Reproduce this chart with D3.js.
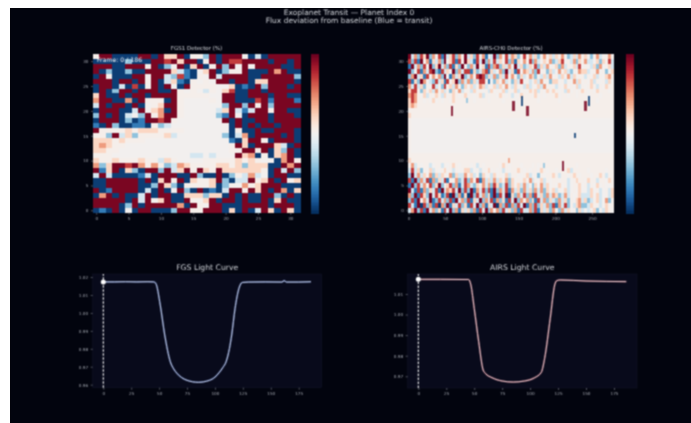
<!DOCTYPE html>
<html>
<head>
<meta charset="utf-8">
<script src="https://cdn.jsdelivr.net/npm/d3@7"></script>
<style>
html, body { margin: 0; padding: 0; background: #fff; overflow: hidden; }
svg { display: block; font-family: "DejaVu Sans", sans-serif; }
</style>
</head>
<body>
<div id="chart"></div>
<script>
// each digit is one detector cell, see fluxLevels. top row of the image first
var fluxLevels = [-0.95, -0.7, -0.4, -0.17, 0, 0.03, 0.2, 0.42, 0.7, 0.95];

var fgsRows = [
  "59900009"+"90966905"+"52909994"+"03099999",
  "00000200"+"09989699"+"05909889"+"99909909",
  "99900999"+"59024906"+"90592949"+"49999009",
  "90200200"+"99996310"+"46902559"+"00097900",
  "09500099"+"49932810"+"54939999"+"00999992",
  "99909909"+"59036105"+"45499099"+"06699990",
  "09903080"+"49094095"+"55544601"+"09299909",
  "09029909"+"99009545"+"43546800"+"99099999",
  "69009099"+"09999555"+"55449900"+"99909900",
  "79900709"+"55509544"+"44549900"+"08919991",
  "39099090"+"45699544"+"44442992"+"95929999",
  "09990039"+"46709544"+"44436931"+"39959900",
  "29090342"+"95799544"+"44421940"+"99909990",
  "09990201"+"99895444"+"44449090"+"09909999",
  "10920011"+"05234444"+"44444090"+"90990999",
  "95555656"+"66555544"+"44444050"+"09009990",
  "55293625"+"55563444"+"44442037"+"09999090",
  "66656555"+"44444444"+"44444106"+"99509990",
  "67655444"+"44444444"+"44444596"+"09996309",
  "66554444"+"44444444"+"44444559"+"95906290",
  "55544444"+"44444443"+"34344496"+"70506790",
  "65565556"+"55365444"+"45555565"+"65440795",
  "72699897"+"57523765"+"55566562"+"66600979",
  "91690620"+"99293695"+"96596666"+"66509392",
  "39300001"+"30999009"+"20090253"+"73409900",
  "00999990"+"90695906"+"55692033"+"95690956",
  "00999990"+"02962055"+"55602547"+"56999000",
  "90199990"+"30904920"+"90103995"+"96909706",
  "07909003"+"90990066"+"62660909"+"00992090",
  "99999093"+"94690095"+"46909909"+"00906900",
  "99990290"+"99999709"+"54990009"+"99909990",
  "01090409"+"90002995"+"59990609"+"03960960"
];

var airsRows = [
  "9372869274"+"8193682759"+"3628471539"+"2748376258"+"4736257463"+"6574236375"+"6425735574",
  "8281957163"+"7294681849"+"6318392738"+"3648271647"+"5827346572"+"3684537265"+"7334626583",
  "1937284926"+"9372816294"+"2739461827"+"8263749362"+"3648263745"+"6273546384"+"5436274563",
  "9248173892"+"1836492738"+"8162378163"+"4729361847"+"6372845263"+"4756325476"+"6345745246",
  "2793618475"+"7294173692"+"3748982637"+"2638475263"+"4762536374"+"5364736455"+"3546354675",
  "8162974328"+"3618469273"+"7263885142"+"6473526384"+"5346374526"+"6453547364"+"5463545364",
  "7383625483"+"5284637526"+"4635763546"+"3647536453"+"6354637455"+"3546454635"+"4565354655",
  "6885264637"+"4635264735"+"5364545364"+"5463546345"+"4656354646"+"5453645456"+"5454655545",
  "7875463546"+"5364565456"+"4545635455"+"4654535465"+"5546454555"+"6455455455"+"5455545555",
  "6875545464"+"5455465555"+"5545555455"+"5545554555"+"5555455555"+"5455555555"+"5555455555",
  "6765555555"+"5555555555"+"5555555555"+"5555555555"+"5555555555"+"5555555555"+"5555555555",
  "5555555555"+"5555555555"+"5555555555"+"5555555555"+"5555555555"+"5555555555"+"5555555555",
  "6555555555"+"5555555555"+"5555555555"+"5555555555"+"5555555555"+"5555555555"+"5555555555",
  "5444444444"+"4444444444"+"4444444444"+"4444444444"+"4444444444"+"4444444444"+"4444444444",
  "5444444444"+"4444444444"+"4444444444"+"4444444444"+"4444444444"+"4444444444"+"4444444444",
  "5444444444"+"4444444444"+"4444444444"+"4444444444"+"4444444444"+"4444444444"+"4444444444",
  "5444444444"+"4444444444"+"4444444444"+"4444444444"+"4444444444"+"4444444444"+"4444444444",
  "5444444444"+"4444444444"+"4444444444"+"4444444444"+"4444444444"+"4444444444"+"4444444444",
  "5444444444"+"4444444444"+"4444444444"+"4444444444"+"4444444444"+"4444444444"+"4444444444",
  "5444444444"+"4444444444"+"4444444444"+"4444444444"+"4444444444"+"4444444444"+"4444444444",
  "5555555555"+"5555555555"+"5555555555"+"5555555555"+"5555555555"+"5555555555"+"5555555555",
  "6555555555"+"5555555555"+"5555555555"+"5555555555"+"5555555555"+"5555555555"+"5555555555",
  "4735455345"+"5354565455"+"5453545555"+"5465455545"+"5545455555"+"5545555455"+"5555555555",
  "3836254635"+"4564535446"+"6345355645"+"4535455654"+"5455465455"+"4555635555"+"5455555455",
  "2937364726"+"3654726337"+"5635264536"+"4546355445"+"6345254556"+"5355456545"+"5545565355",
  "8192738172"+"6381547238"+"2748173637"+"3647264546"+"4735463545"+"5455345655"+"4655355465",
  "1928375826"+"9246827138"+"7326473728"+"6238264637"+"3526473645"+"4645345564"+"5354645445",
  "9318172638"+"1937683928"+"2917382819"+"2738173627"+"3627372646"+"3546345464"+"4364534536",
  "7291862938"+"6128092716"+"0928372619"+"1839062738"+"2718362737"+"6237354563"+"3364634536",
  "2819473912"+"8372819372"+"8163927381"+"7261839274"+"7261837263"+"2736254673"+"6235634725",
  "8319082718"+"0729163826"+"1839271639"+"0728172839"+"1728263728"+"1738253672"+"2365534645",
  "3792819372"+"6183927163"+"6271839274"+"7283627183"+"3728163627"+"5273645263"+"5346253654"
];

// hot pixels on the AIRS detector
var spikeCols = [59, 143, 155, 162, 241, 246, 227, 210, 79, 137, 185];
var spikeRows = [19, 20, 21, 19, 20, 21, 14.5, 8, 21.5, 9.5, 8.5];
var spikeSpans = [2, 2, 2, 2, 2, 2, 1, 2, 1, 1, 1];
var spikeDigits = [9, 9, 0, 9, 9, 0, 0, 9, 2, 7, 2];

var fgsFrames = [0, 10, 20, 30, 40, 45, 47, 51, 55, 60, 63, 66, 70, 75, 85, 95, 100, 104, 107, 110, 113, 115, 118, 121.5, 124.5, 130, 145, 160, 162, 164, 175, 186];
var fgsFlux = [1.0173, 1.0173, 1.0174, 1.0173, 1.0174, 1.0173, 1.0165, 1.0044, 0.9877, 0.9728, 0.9688, 0.9663, 0.964, 0.9624, 0.9613, 0.9624, 0.9642, 0.9669, 0.9695, 0.9728, 0.9802, 0.9877, 1.0025, 1.0137, 1.017, 1.0172, 1.0173, 1.0172, 1.018, 1.0172, 1.0172, 1.0174];

var airsFrames = [0, 20, 45, 47, 50, 54, 58, 60, 66, 75, 85, 95, 104, 110, 113, 118, 122, 124, 127, 150, 186];
var airsFlux = [1.0171, 1.0171, 1.017, 1.0144, 1.003, 0.9868, 0.973, 0.9714, 0.9693, 0.9677, 0.9672, 0.9677, 0.9693, 0.9719, 0.9787, 0.9982, 1.0144, 1.0165, 1.0168, 1.0163, 1.016];

var heatTicks = [0, 5, 10, 15, 20, 25, 30];
var airsXTicks = [0, 50, 100, 150, 200, 250];
var frameTicks = [0, 25, 50, 75, 100, 125, 150, 175];
var fgsFluxTicks = [0.96, 0.97, 0.98, 0.99, 1.00, 1.01, 1.02];
var airsFluxTicks = [0.97, 0.98, 0.99, 1.00, 1.01];

var bg = "#02040e";
var tickColor = "#a3a7b0";
var titleColor = "#d2d5da";

var root = d3.select("#chart").append("svg")
    .attr("width", 691)
    .attr("height", 423);

// the reference is a soft, upscaled picture. small kernel, css blur jumps too far
root.append("defs").append("filter")
    .attr("id", "soft")
    .attr("filterUnits", "userSpaceOnUse")
    .attr("x", 0).attr("y", 0)
    .attr("width", 691).attr("height", 423)
    .attr("color-interpolation-filters", "sRGB")
    .append("feConvolveMatrix")
    .attr("order", 3)
    .attr("kernelMatrix", "1 2 1 2 5 2 1 2 1")
    .attr("preserveAlpha", "true")
    .attr("edgeMode", "duplicate");

var svg = root.append("g").attr("filter", "url(#soft)");

svg.append("rect")
    .attr("x", 10).attr("y", 8)
    .attr("width", 690).attr("height", 420)
    .attr("fill", bg);

// RdBu reversed, blue for negative flux
function fluxColor(v) {
    return d3.interpolateRdBu(0.5 - v / 2);
}

function drawAxes(g, x, y, xTicks, yTicks, yFormat, spine) {
    var xAxis = d3.axisBottom(x).tickValues(xTicks).tickSize(2).tickPadding(2.5);
    var yAxis = d3.axisLeft(y).tickValues(yTicks).tickSize(2).tickPadding(2.5);
    if (yFormat) yAxis.tickFormat(d3.format(yFormat));

    var gx = g.append("g").attr("transform", "translate(0," + y.range()[0] + ")").call(xAxis);
    var gy = g.append("g").attr("transform", "translate(" + x.range()[0] + ",0)").call(yAxis);

    [gx, gy].forEach(function(a) {
        a.select(".domain").attr("stroke", spine).attr("stroke-width", 0.5);
        a.selectAll(".tick line").attr("stroke", tickColor).attr("stroke-width", 0.5);
        a.selectAll(".tick text")
            .attr("fill", tickColor)
            .attr("font-size", 4.2)
            .attr("font-family", "DejaVu Sans");
    });
}

function drawHeat(rows, colWidth, x, y) {
    var g = svg.append("g").attr("shape-rendering", "crispEdges");
    rows.forEach(function(row, i) {
        var r = rows.length - 1 - i;
        row.split("").forEach(function(c, j) {
            var x0 = x(j * colWidth - 0.5), x1 = x((j + 1) * colWidth - 0.5);
            g.append("rect")
                .attr("x", x0)
                .attr("y", y(r + 0.5))
                .attr("width", x1 - x0 + 0.5)
                .attr("height", y(r - 0.5) - y(r + 0.5) + 0.5)
                .attr("fill", fluxColor(fluxLevels[+c]));
        });
    });
    return g;
}

function drawColorbar(x0, x1, y) {
    var steps = d3.range(0, 100);
    var span = y.range()[0] - y.range()[1];
    svg.append("g").attr("shape-rendering", "crispEdges").selectAll("rect")
        .data(steps)
        .enter().append("rect")
        .attr("x", x0)
        .attr("width", x1 - x0)
        .attr("y", d => y.range()[1] + d * span / 100)
        .attr("height", span / 100 + 0.8)
        .attr("fill", d => fluxColor(1 - 2 * d / 99));
}

function panelTitle(x, y, size, label) {
    svg.append("text")
        .attr("x", x).attr("y", y)
        .attr("text-anchor", "middle")
        .attr("font-size", size)
        .attr("fill", titleColor)
        .text(label);
}

// ------ figure title ------
panelTitle(349, 14.5, 7.5, "Exoplanet Transit — Planet Index 0");
panelTitle(349, 23, 7.5, "Flux deviation from baseline (Blue = transit)");

// ------ FGS detector ------
var heatY = d3.scaleLinear().domain([-0.5, 31.5]).range([212.8, 53.7]);
var fgsX = d3.scaleLinear().domain([-0.5, 31.5]).range([93, 300]);

drawHeat(fgsRows, 1, fgsX, heatY);
drawAxes(svg.append("g"), fgsX, heatY, heatTicks, heatTicks, null, "none");
drawColorbar(311, 318.5, heatY);
panelTitle(196.5, 49.8, 5.5, "FGS1 Detector (%)");

svg.append("text")
    .attr("x", 97).attr("y", 62)
    .attr("font-size", 6.2)
    .attr("fill", "#ffffff")
    .text("Frame: 0 / 186");

// ------ AIRS detector ------
var airsX = d3.scaleLinear().domain([-0.5, 279.5]).range([408.3, 613.7]);

var airsHeat = drawHeat(airsRows, 4, airsX, heatY);
spikeCols.forEach(function(c, i) {
    airsHeat.append("rect")
        .attr("x", airsX(c - 1.5))
        .attr("y", heatY(spikeRows[i] + spikeSpans[i]))
        .attr("width", airsX(3) - airsX(0))
        .attr("height", heatY(spikeRows[i]) - heatY(spikeRows[i] + spikeSpans[i]))
        .attr("fill", fluxColor(fluxLevels[spikeDigits[i]]))
        .attr("opacity", 0.85);
});
drawAxes(svg.append("g"), airsX, heatY, airsXTicks, heatTicks, null, "none");
drawColorbar(626, 633.7, heatY);
panelTitle(511, 49.8, 5.5, "AIRS-CH0 Detector (%)");

// ------ light curves ------
function drawCurve(cfg) {
    var x = d3.scaleLinear().domain([-9.5, 195.6]).range(cfg.xRange);
    var y = d3.scaleLinear().domain(cfg.yDomain).range([cfg.yRange[0], cfg.yRange[1]]);

    svg.append("rect")
        .attr("x", cfg.xRange[0]).attr("y", cfg.yRange[1])
        .attr("width", cfg.xRange[1] - cfg.xRange[0])
        .attr("height", cfg.yRange[0] - cfg.yRange[1])
        .attr("fill", "#080a1b")
        .attr("stroke", "#14172b")
        .attr("stroke-width", 0.5);

    drawAxes(svg.append("g"), x, y, frameTicks, cfg.yTicks, ".2f", "none");

    var line = d3.line()
        .x((d, i) => x(cfg.frames[i]))
        .y(d => y(d))
        .curve(d3.curveMonotoneX);

    // soft glow under the curve
    svg.append("path")
        .datum(cfg.flux)
        .attr("fill", "none")
        .attr("stroke", cfg.color)
        .attr("stroke-opacity", 0.45)
        .attr("stroke-width", 1.6)
        .attr("d", line);

    svg.append("path")
        .datum(cfg.flux)
        .attr("fill", "none")
        .attr("stroke", cfg.core)
        .attr("stroke-width", 1)
        .attr("d", line);

    svg.append("line")
        .attr("x1", x(0)).attr("x2", x(0))
        .attr("y1", cfg.yRange[0]).attr("y2", cfg.yRange[1])
        .attr("stroke", "#ffffff")
        .attr("stroke-width", 1.1)
        .attr("stroke-dasharray", "2.4 1.6");

    svg.append("circle")
        .attr("cx", x(0)).attr("cy", y(cfg.flux[0]))
        .attr("r", 2.5)
        .attr("fill", "#fff");

    panelTitle((cfg.xRange[0] + cfg.xRange[1]) / 2, 270, 7.7, cfg.title);
}

drawCurve({
    title: "FGS Light Curve",
    frames: fgsFrames,
    flux: fgsFlux,
    color: "#6f8fe0",
    core: "#d0dcf8",
    xRange: [92.7, 321.7],
    yRange: [387.7, 274],
    yDomain: [0.9583, 1.0217],
    yTicks: fgsFluxTicks
});

drawCurve({
    title: "AIRS Light Curve",
    frames: airsFrames,
    flux: airsFlux,
    color: "#e0707f",
    core: "#fad6da",
    xRange: [407.7, 637],
    yRange: [388, 274],
    yDomain: [0.9643, 1.0197],
    yTicks: airsFluxTicks
});
</script>
</body>
</html>
